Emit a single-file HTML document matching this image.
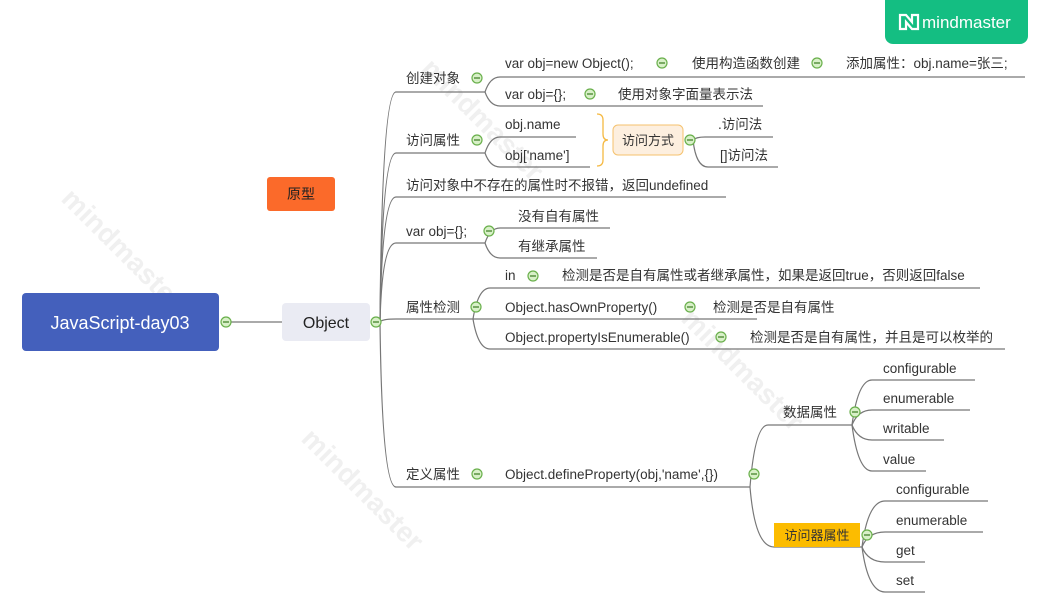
<!DOCTYPE html>
<html><head><meta charset="utf-8"><style>
html,body{margin:0;padding:0;background:#fff;width:1045px;height:613px;overflow:hidden;}
svg{display:block;}
svg text{font-family:"Liberation Sans","Noto Sans CJK SC",sans-serif;}
</style></head><body>
<svg width="1045" height="613" viewBox="0 0 1045 613" xmlns="http://www.w3.org/2000/svg" overflow="hidden">
<defs>
<g id="c"><circle r="5" fill="#d8f0c8" stroke="#6ab04c" stroke-width="1.2"/><line x1="-3" y1="0" x2="3" y2="0" stroke="#3a7a20" stroke-width="1.2"/></g>
</defs>
<g fill="#f0f0f0" font-weight="bold" font-size="28">
<text transform="translate(60,200) rotate(45)">mindmaster</text>
<text transform="translate(420,70) rotate(45)">mindmaster</text>
<text transform="translate(680,320) rotate(45)">mindmaster</text>
<text transform="translate(300,440) rotate(45)">mindmaster</text>
</g>
<rect x="885" y="0" width="143" height="44" rx="8" fill="#14be82"/>
<rect x="885" y="0" width="143" height="10" fill="#14be82"/>
<text x="922" y="28" fill="#fff" font-size="17">mindmaster</text>
<path d="M900 15 L900 29 L906 29 L906 22 L912 29 L918 29 L918 15 L912 15 L912 22 L906 15 Z" fill="none" stroke="#fff" stroke-width="2.2"/>

<g fill="none" stroke="#777" stroke-width="1.2">
<line x1="231" y1="322" x2="282" y2="322"/>
<path d="M380 322 Q382 92 396 92 H485"/>
<path d="M380 322 Q382 153 396 153 H485"/>
<path d="M380 322 Q382 197 396 197 H726"/>
<path d="M380 322 Q382 243 396 243 H485"/>
<path d="M380 322 Q382 319 396 319 H473"/>
<path d="M380 322 Q382 487 396 487 H750"/>
<path d="M485 92 Q490 77 500 77 H1025"/>
<path d="M485 92 Q490 106 500 106 H763"/>
<path d="M485 153 Q490 137 500 137 H576"/>
<path d="M485 153 Q490 167 500 167 H590"/>
<path d="M693 140 Q696 137 705 137 H773"/>
<path d="M693 140 Q696 167 708 167 H778"/>
<path d="M485 243 Q490 228 500 228 H610"/>
<path d="M485 243 Q490 258 500 258 H597"/>
<path d="M473 319 Q478 288 490 288 H980"/>
<path d="M473 319 H757"/>
<path d="M473 319 Q478 349 490 349 H1005"/>
<path d="M750 487 Q755 425 768 425 H852"/>
<path d="M750 487 Q755 547 774 547"/>
<path d="M852 425 Q858 380 872 380 H975"/>
<path d="M852 425 Q858 410 872 410 H970"/>
<path d="M852 425 Q858 440 872 440 H944"/>
<path d="M852 425 Q858 471 872 471 H926"/>
<path d="M862 547 Q868 501 885 501 H988"/>
<path d="M862 547 Q868 532 885 532 H983"/>
<path d="M862 547 Q868 562 885 562 H925"/>
<path d="M862 547 Q868 592 885 592 H925"/>
<line x1="774" y1="547" x2="862" y2="547"/>
</g>
<path d="M597 114 Q603 114 603 120 L603 134 Q603 140 608 140 Q603 140 603 146 L603 160 Q603 166 597 166" fill="none" stroke="#f5b942" stroke-width="1.3"/>

<rect x="22" y="293" width="197" height="58" rx="4" fill="#4460bc"/>
<text x="120" y="329" fill="#fff" font-size="18" text-anchor="middle">JavaScript-day03</text>
<rect x="282" y="303" width="88" height="38" rx="4" fill="#eaebf3"/>
<text x="326" y="328" fill="#222" font-size="16" text-anchor="middle">Object</text>
<rect x="267" y="177" width="68" height="34" rx="3" fill="#fb6a2a"/>
<text x="301" y="199" fill="#222" font-size="14" text-anchor="middle">原型</text>
<rect x="613" y="125" width="70" height="30" rx="5" fill="#fdefdf" stroke="#f5c26e"/>
<text x="648" y="145" fill="#333" font-size="13" text-anchor="middle">访问方式</text>
<rect x="774" y="523" width="86" height="24" fill="#fcbc00"/>
<text x="817" y="540" fill="#333" font-size="13" text-anchor="middle">访问器属性</text>

<g fill="#333" font-size="13.5">
<text x="406" y="83">创建对象</text>
<text x="505" y="68">var obj=new Object();</text>
<text x="692" y="68">使用构造函数创建</text>
<text x="846" y="68">添加属性：obj.name=张三;</text>
<text x="505" y="99">var obj={};</text>
<text x="618" y="99">使用对象字面量表示法</text>
<text x="406" y="145">访问属性</text>
<text x="505" y="129">obj.name</text>
<text x="505" y="160">obj['name']</text>
<text x="718" y="129">.访问法</text>
<text x="720" y="160">[]访问法</text>
<text x="406" y="190">访问对象中不存在的属性时不报错，返回undefined</text>
<text x="406" y="236">var obj={};</text>
<text x="518" y="221">没有自有属性</text>
<text x="518" y="251">有继承属性</text>
<text x="406" y="312">属性检测</text>
<text x="505" y="280">in</text>
<text x="562" y="280">检测是否是自有属性或者继承属性，如果是返回true，否则返回false</text>
<text x="505" y="312">Object.hasOwnProperty()</text>
<text x="713" y="312">检测是否是自有属性</text>
<text x="505" y="342">Object.propertyIsEnumerable()</text>
<text x="750" y="342">检测是否是自有属性，并且是可以枚举的</text>
<text x="406" y="479">定义属性</text>
<text x="505" y="479">Object.defineProperty(obj,'name',{})</text>
<text x="783" y="417">数据属性</text>
<text x="883" y="373">configurable</text>
<text x="883" y="403">enumerable</text>
<text x="883" y="433">writable</text>
<text x="883" y="464">value</text>
<text x="896" y="494">configurable</text>
<text x="896" y="525">enumerable</text>
<text x="896" y="555">get</text>
<text x="896" y="585">set</text>
</g>

<use href="#c" x="226" y="322"/>
<use href="#c" x="376" y="322"/>
<use href="#c" x="477" y="78"/>
<use href="#c" x="662" y="63"/>
<use href="#c" x="817" y="63"/>
<use href="#c" x="590" y="94"/>
<use href="#c" x="477" y="140"/>
<use href="#c" x="690" y="140"/>
<use href="#c" x="489" y="231"/>
<use href="#c" x="476" y="307"/>
<use href="#c" x="533" y="276"/>
<use href="#c" x="690" y="307"/>
<use href="#c" x="721" y="337"/>
<use href="#c" x="477" y="474"/>
<use href="#c" x="754" y="474"/>
<use href="#c" x="855" y="412"/>
<use href="#c" x="867" y="535"/>
</svg>
</body></html>
